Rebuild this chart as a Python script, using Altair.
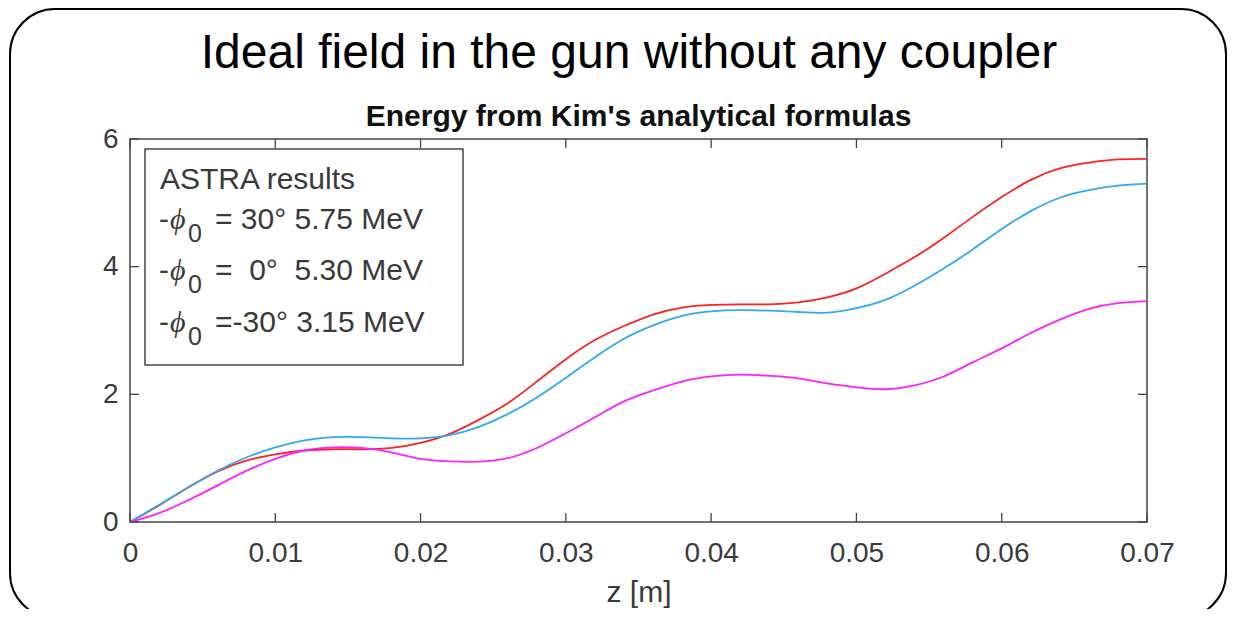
import altair as alt
import pandas as pd

# ---------------- data ----------------
z_m = [0.000, 0.002, 0.004, 0.006, 0.008, 0.010, 0.012, 0.014, 0.016, 0.018,
       0.020, 0.022, 0.024, 0.026, 0.028, 0.030, 0.032, 0.034, 0.036, 0.038,
       0.040, 0.042, 0.044, 0.046, 0.048, 0.050, 0.052, 0.054, 0.056, 0.058,
       0.060, 0.062, 0.064, 0.066, 0.068, 0.070]
energy_p30 = [0.00, 0.26, 0.54, 0.79, 0.96, 1.06, 1.12, 1.14, 1.14, 1.16,
              1.24, 1.38, 1.60, 1.86, 2.20, 2.55, 2.85, 3.07, 3.25, 3.36,
              3.40, 3.41, 3.41, 3.44, 3.52, 3.66, 3.89, 4.15, 4.45, 4.78,
              5.09, 5.36, 5.54, 5.63, 5.68, 5.69]
energy_0 = [0.00, 0.27, 0.54, 0.80, 1.01, 1.17, 1.28, 1.33, 1.33, 1.31,
            1.31, 1.36, 1.49, 1.69, 1.95, 2.26, 2.58, 2.87, 3.08, 3.23,
            3.30, 3.32, 3.31, 3.29, 3.28, 3.35, 3.48, 3.70, 3.97, 4.27,
            4.59, 4.87, 5.08, 5.20, 5.27, 5.30]
energy_m30 = [0.00, 0.14, 0.34, 0.57, 0.80, 0.99, 1.12, 1.17, 1.16, 1.09,
              0.99, 0.95, 0.945, 1.00, 1.16, 1.39, 1.64, 1.89, 2.06, 2.20,
              2.28, 2.31, 2.29, 2.25, 2.17, 2.11, 2.08, 2.14, 2.28, 2.50,
              2.72, 2.96, 3.17, 3.34, 3.43, 3.46]
series_names = ["30°", "0°", "-30°"]
series_colors = ["#ff2020", "#30a8f5", "#ff20ff"]

x_tick_values = [0, 0.01, 0.02, 0.03, 0.04, 0.05, 0.06, 0.07]
y_tick_values = [0, 2, 4, 6]

heading = "Ideal field in the gun without any coupler"
chart_title = "Energy from Kim's analytical formulas"
x_title = "z [m]"
legend_header = "ASTRA results"
legend_tails = ["= 30° 5.75 MeV", "=\u00a0\u00a00°\u00a0\u00a05.30 MeV", "=-30° 3.15 MeV"]

# ---------------- build ----------------
rows = []
for name, vals in zip(series_names, [energy_p30, energy_0, energy_m30]):
    for z, e in zip(z_m, vals):
        rows.append({"z": z, "E": e, "series": name})
df = pd.DataFrame(rows)

W, H = 1017, 383
FONT = "Liberation Sans"
AX = "#444444"
TXT = "#3a3a3a"
one = pd.DataFrame({"a": [0]})

xscale = alt.Scale(domain=[0, 0.07], nice=False, zero=False)
yscale = alt.Scale(domain=[0, 6], nice=False)
xaxis = alt.Axis(values=x_tick_values, format="~g", title=x_title,
                 titleY=79, titleBaseline="alphabetic")
yaxis = alt.Axis(values=y_tick_values, title=None)
X = alt.X("z:Q", scale=xscale, axis=xaxis)
Y = alt.Y("E:Q", scale=yscale, axis=yaxis)

frame = alt.Chart(one).mark_rect(
    cornerRadius=45, fillOpacity=0, stroke="black", strokeWidth=2
).encode(x=alt.value(-120), x2=alt.value(1096), y=alt.value(-130), y2=alt.value(479))

legend_box = alt.Chart(one).mark_rect(
    fill="white", stroke=AX, strokeWidth=1.5
).encode(x=alt.value(15), x2=alt.value(333), y=alt.value(10), y2=alt.value(226))

lines = alt.Chart(df).mark_line(strokeWidth=1.8, interpolate="natural").encode(
    x=X, y=Y,
    color=alt.Color("series:N", scale=alt.Scale(domain=series_names, range=series_colors),
                    legend=None),
    detail="series:N",
)

xt = pd.DataFrame({"z": x_tick_values})
yt = pd.DataFrame({"E": y_tick_values})
tk = dict(color=AX, strokeWidth=1.3)
bottom_ticks = alt.Chart(xt).mark_rule(**tk).encode(x=X, y=alt.value(H), y2=alt.value(H - 9))
top_ticks = alt.Chart(xt).mark_rule(**tk).encode(x=X, y=alt.value(0), y2=alt.value(9))
left_ticks = alt.Chart(yt).mark_rule(**tk).encode(y=Y, x=alt.value(0), x2=alt.value(9))
right_ticks = alt.Chart(yt).mark_rule(**tk).encode(y=Y, x=alt.value(W), x2=alt.value(W - 9))

def txt(s, x, y, size=30, align="left", style="normal", font=FONT, color=TXT, weight="normal"):
    return alt.Chart(one).mark_text(
        text=s, fontSize=size, font=font, align=align, baseline="alphabetic",
        fontStyle=style, color=color, fontWeight=weight
    ).encode(x=alt.value(x), y=alt.value(y))

texts = [
    txt(heading, 499, -71, size=48, align="center", color="black"),
    txt(chart_title, W / 2, -13, size=30, align="center", color="#111111", weight="bold"),
    txt(legend_header, 30, 189 - 139),
]
baselines = [229, 280, 332]
for b, tail in zip(baselines, legend_tails):
    yb = b - 139
    texts.append(txt("-", 29, yb))
    texts.append(txt("\u03d5", 40, yb, style="italic", font="Liberation Serif"))
    texts.append(txt("0", 58, yb + 13, size=25))
    texts.append(txt(tail, 85, yb))

chart = alt.layer(
    frame, legend_box, lines, bottom_ticks, top_ticks, left_ticks, right_ticks, *texts
).properties(
    width=W, height=H,
    autosize=alt.AutoSizeParams(type="none"),
    padding={"left": 122, "top": 131, "right": 80, "bottom": 87},
).configure_view(
    stroke=AX, strokeWidth=1.5
).configure_axis(
    grid=False, domain=False, ticks=False, tickSize=0,
    labelFont=FONT, labelFontSize=28, labelColor=TXT, labelFlush=False,
    titleFont=FONT, titleFontSize=30, titleColor=TXT, titleFontWeight="normal",
).configure_axisX(labelPadding=17).configure_axisY(labelPadding=12)

chart.save("out.html", embed_options={"renderer": "svg", "actions": False})
